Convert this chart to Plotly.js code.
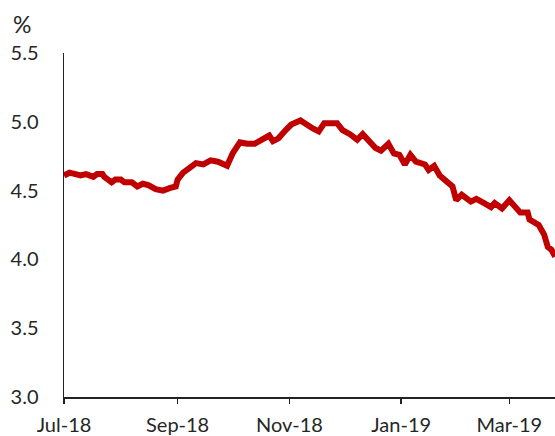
<!DOCTYPE html>
<html>
<head>
<meta charset="utf-8">
<script src="https://cdn.plot.ly/plotly-3.0.1.min.js"></script>
<style>
  html, body { margin: 0; padding: 0; background: #fff; }
  #chart { width: 555px; height: 436px; }
</style>
</head>
<body>
<div id="chart"></div>
<script>
// Daily rate, % (Jul 2018 – Mar 2019)
const dates = [
  '2018-07-01','2018-07-04','2018-07-10','2018-07-13','2018-07-17','2018-07-19','2018-07-22','2018-07-23',
  '2018-07-27','2018-07-29','2018-08-01','2018-08-03','2018-08-07','2018-08-10','2018-08-13','2018-08-16',
  '2018-08-20','2018-08-24','2018-08-28','2018-08-31','2018-09-01','2018-09-04','2018-09-07','2018-09-11',
  '2018-09-15','2018-09-19','2018-09-23','2018-09-28','2018-10-01','2018-10-05','2018-10-09','2018-10-13',
  '2018-10-17','2018-10-21','2018-10-23','2018-10-26','2018-10-30','2018-11-02','2018-11-07','2018-11-10',
  '2018-11-14','2018-11-17','2018-11-20','2018-11-27','2018-11-30','2018-12-04','2018-12-08','2018-12-11',
  '2018-12-14','2018-12-18','2018-12-21','2018-12-25','2018-12-28','2018-12-31','2019-01-03','2019-01-06',
  '2019-01-09','2019-01-14','2019-01-16','2019-01-19','2019-01-22','2019-01-25','2019-01-29','2019-01-31',
  '2019-02-03','2019-02-08','2019-02-11','2019-02-15','2019-02-19','2019-02-21','2019-02-25','2019-03-01',
  '2019-03-04','2019-03-07','2019-03-11','2019-03-12','2019-03-17','2019-03-20','2019-03-22','2019-03-24',
  '2019-03-26'
];
const rates = [
  4.61, 4.63, 4.61, 4.62, 4.60, 4.62, 4.62, 4.60,
  4.56, 4.58, 4.58, 4.56, 4.56, 4.53, 4.55, 4.54,
  4.51, 4.50, 4.52, 4.53, 4.58, 4.63, 4.66, 4.70,
  4.69, 4.72, 4.71, 4.68, 4.77, 4.85, 4.84, 4.84,
  4.87, 4.90, 4.86, 4.88, 4.94, 4.98, 5.01, 4.98,
  4.95, 4.93, 4.99, 4.99, 4.94, 4.91, 4.87, 4.91,
  4.87, 4.81, 4.79, 4.84, 4.77, 4.76, 4.69, 4.76,
  4.71, 4.69, 4.65, 4.68, 4.61, 4.58, 4.53, 4.43,
  4.47, 4.42, 4.44, 4.41, 4.38, 4.41, 4.37, 4.43,
  4.39, 4.34, 4.34, 4.29, 4.25, 4.18, 4.09, 4.07,
  4.02
];
const xTicks = ['2018-07-01','2018-09-01','2018-11-01','2019-01-01','2019-03-01'];
const xTickLabels = ['Jul-18','Sep-18','Nov-18','Jan-19','Mar-19'];
const yTicks = [3.0, 3.5, 4.0, 4.5, 5.0, 5.5];
const unitLabel = '%';

const textColor = '#262626';
const fontFamily = 'Lato, "Open Sans", sans-serif';

const trace = {
  type: 'scatter',
  mode: 'lines',
  x: dates,
  y: rates,
  line: { color: '#c00000', width: 6, shape: 'linear' },
  hoverinfo: 'x+y'
};

const layout = {
  width: 555,
  height: 436,
  margin: { l: 64, r: 0, t: 53, b: 39, pad: 0 },
  paper_bgcolor: '#ffffff',
  plot_bgcolor: '#ffffff',
  showlegend: false,
  font: { family: fontFamily, size: 20, color: textColor },
  xaxis: {
    type: 'date',
    range: ['2018-07-01', '2019-03-25 22:00'],
    tickvals: xTicks,
    ticktext: xTickLabels,
    showgrid: false,
    zeroline: false,
    showline: true,
    linecolor: '#222222',
    linewidth: 1.5,
    ticks: 'outside',
    ticklen: 5,
    tickwidth: 1.5,
    tickcolor: '#222222',
    ticklabelstandoff: 4,
    tickfont: { family: fontFamily, size: 20, color: textColor }
  },
  yaxis: {
    range: [3.0, 5.5],
    tickvals: yTicks,
    tickformat: '.1f',
    showgrid: false,
    zeroline: false,
    showline: true,
    linecolor: '#222222',
    linewidth: 1.5,
    ticks: '',
    ticklabelstandoff: 20,
    tickfont: { family: fontFamily, size: 20, color: textColor }
  },
  annotations: [{
    text: unitLabel,
    xref: 'paper', yref: 'paper',
    x: -0.108, y: 1.083,
    xanchor: 'left', yanchor: 'middle',
    showarrow: false,
    font: { family: fontFamily, size: 23, color: textColor }
  }]
};

Plotly.newPlot('chart', [trace], layout, { displayModeBar: false, staticPlot: true });
</script>
</body>
</html>
